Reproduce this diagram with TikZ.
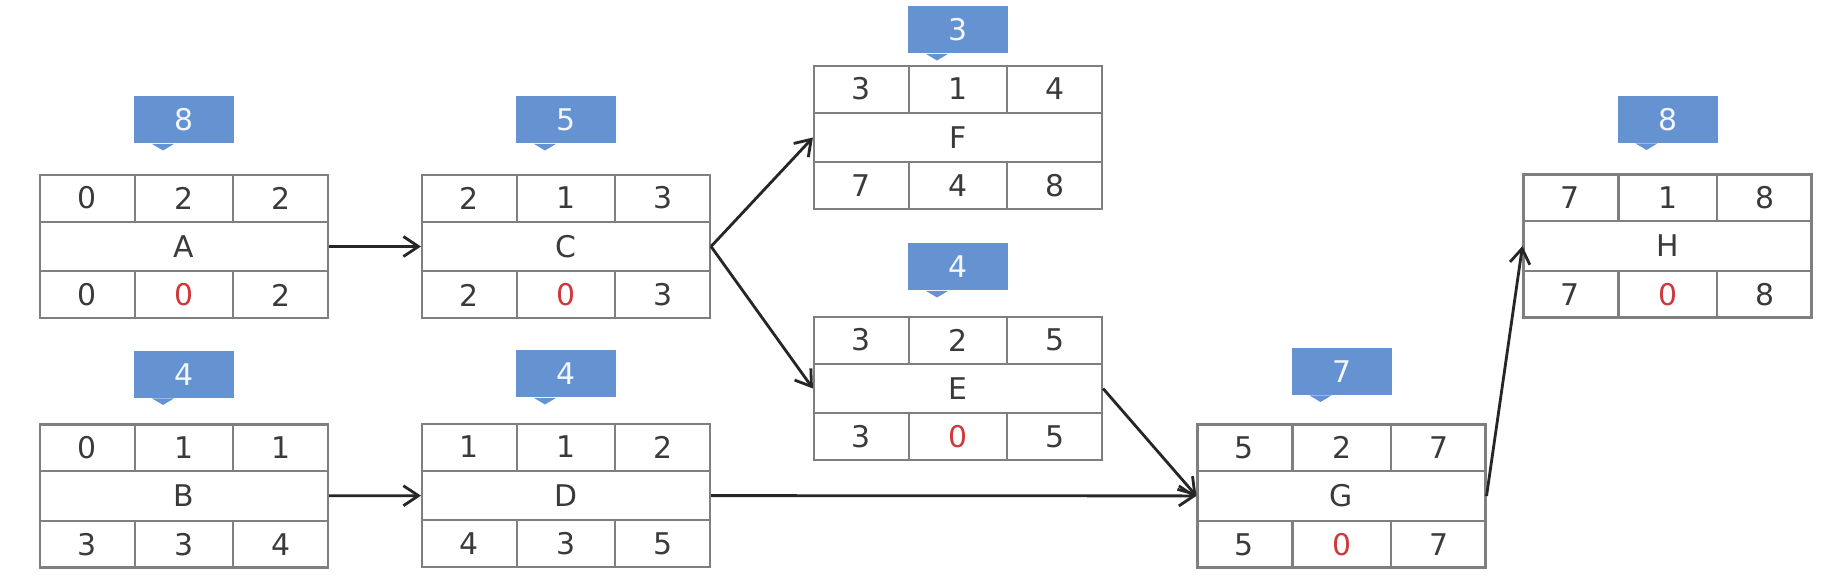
\documentclass[tikz,border=0pt]{standalone}
\usepackage{fontspec}
\setmainfont{DejaVu Sans}
\usetikzlibrary{arrows.meta,positioning}
\definecolor{GridGray}{HTML}{7F7F7F}
\definecolor{NumInk}{HTML}{3A3A3A}
\definecolor{FloatRed}{HTML}{D0393B}
\definecolor{TagBlue}{HTML}{6592D0}
\tikzset{
  actbox/.style={draw=GridGray, line width=0.6pt, minimum width=2.88cm, minimum height=1.43cm, inner sep=0pt, font=\fontsize{8.5}{10}\selectfont, text=NumInk},
  grid/.style={draw=GridGray, line width=0.6pt},
  num/.style={inner sep=0pt, font=\fontsize{8.5}{10}\selectfont, text=NumInk},
  tag/.style={fill=TagBlue, minimum width=1.0cm, minimum height=0.47cm, inner sep=0pt, font=\fontsize{8.5}{10}\selectfont, text=white!92!TagBlue},
  flow/.style={-{Straight Barb[length=1.5mm, width=2mm]}, line width=0.8pt, draw=black!85},
}
\newcommand{\crit}[1]{\textcolor{FloatRed}{#1}}
% activity box: name, centre, ES, duration, EF, LS, float, LF
\newcommand{\actbox}[8]{%
  \node[actbox] (#1) at (#2) {#1};
  \draw[grid] ([yshift=-0.477cm]#1.north west) -- ([yshift=-0.477cm]#1.north east);
  \draw[grid] ([yshift=0.477cm]#1.south west) -- ([yshift=0.477cm]#1.south east);
  \draw[grid] ([xshift=0.96cm]#1.north west) -- ++(0,-0.477);
  \draw[grid] ([xshift=-0.96cm]#1.north east) -- ++(0,-0.477);
  \draw[grid] ([xshift=0.96cm]#1.south west) -- ++(0,0.477);
  \draw[grid] ([xshift=-0.96cm]#1.south east) -- ++(0,0.477);
  \node[num] (#1-es) at ([shift={(0.48,-0.24)}]#1.north west) {#3};
  \node[num] (#1-du) at ([yshift=-0.24cm]#1.north) {#4};
  \node[num] (#1-ef) at ([shift={(-0.48,-0.24)}]#1.north east) {#5};
  \node[num] (#1-ls) at ([shift={(0.48,0.24)}]#1.south west) {#6};
  \node[num] (#1-fl) at ([yshift=0.24cm]#1.south) {#7};
  \node[num] (#1-lf) at ([shift={(-0.48,0.24)}]#1.south east) {#8};
}

\begin{document}
\begin{tikzpicture}
  \path[fill=white, use as bounding box] (0,0) rectangle (18.35,-5.74);

  \actbox{A}{1.84,-2.465}{0}{2}{2}{0}{\crit{0}}{2}
  \actbox{B}{1.84,-4.96}{0}{1}{1}{3}{3}{4}
  \actbox{C}{5.66,-2.465}{2}{1}{3}{2}{\crit{0}}{3}
  \actbox{D}{5.66,-4.955}{1}{1}{2}{4}{3}{5}
  \actbox{F}{9.58,-1.375}{3}{1}{4}{7}{4}{8}
  \actbox{E}{9.58,-3.885}{3}{2}{5}{3}{\crit{0}}{5}
  \actbox{G}{13.415,-4.96}{5}{2}{7}{5}{\crit{0}}{7}
  \actbox{H}{16.675,-2.46}{7}{1}{8}{7}{\crit{0}}{8}

  % total durations
  \node[tag, above=0.30cm of A] (A-t) {8};
  \node[tag, above=0.25cm of B] (B-t) {4};
  \node[tag, above=0.30cm of C] (C-t) {5};
  \node[tag, above=0.25cm of D] (D-t) {4};
  \node[tag, above=0.11cm of F] (F-t) {3};
  \node[tag, above=0.25cm of E] (E-t) {4};
  \node[tag, above=0.28cm of G] (G-t) {7};
  \node[tag, above=0.30cm of H] (H-t) {8};
  \foreach \t in {A-t,B-t,C-t,D-t,E-t,F-t,G-t,H-t}
    \fill[TagBlue] ([xshift=-0.32cm]\t.south) -- ([shift={(-0.21,-0.065)}]\t.south) -- ([xshift=-0.10cm]\t.south) -- cycle;

  \draw[flow] (A) -- (C);
  \draw[flow] (B) -- (D);
  \draw[flow] (C.east) -- (F.west);
  \draw[flow] (C.east) -- (E.west);
  \draw[flow] (E.east) -- (G.west);
  \draw[flow] (D) -- (G);
  \draw[flow] (G.east) -- (H.west);
\end{tikzpicture}
\end{document}
